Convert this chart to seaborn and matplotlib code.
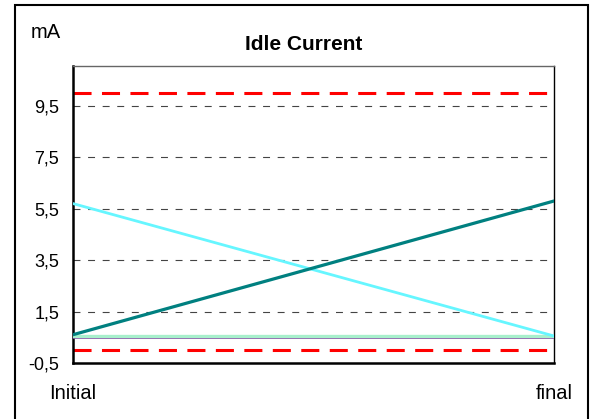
import pandas as pd
import seaborn as sns
import matplotlib.pyplot as plt
from matplotlib.patches import Rectangle

# chart data
stages = ["Initial", "final"]
series_names = ["purple", "green", "cyan", "teal"]
purple_vals = [0.48, 0.48]
green_vals = [0.56, 0.56]
cyan_vals = [5.7, 0.55]
teal_vals = [0.6, 5.8]
limits = [0.0, 10.0]
y_ticks = [-0.5, 1.5, 3.5, 5.5, 7.5, 9.5]
x_tick_labels = ["Initial", "", "final"]

colors = {"purple": "#7f3f9f", "green": "#a8f0cc", "cyan": "#66f6ff", "teal": "#008080"}
widths = {"purple": 1.2, "green": 2.4, "cyan": 2.0, "teal": 2.3}

rows = []
for name, vals in zip(series_names, [purple_vals, green_vals, cyan_vals, teal_vals]):
    for i, v in enumerate(vals):
        rows.append({"series": name, "pos": i, "stage": stages[i], "mA": v})
df = pd.DataFrame(rows)

sns.set_style("white")
plt.rcParams["font.family"] = ["Liberation Sans", "DejaVu Sans"]
plt.rcParams["lines.scale_dashes"] = False
plt.rcParams["text.color"] = "black"
plt.rcParams["xtick.color"] = "black"
plt.rcParams["ytick.color"] = "black"

fig = plt.figure(figsize=(5.93, 4.19), dpi=100)
ax = fig.add_axes([73 / 593, 1 - 363 / 419, 481 / 593, 297 / 419])

# outer chart frame
fig.patches.append(Rectangle((15, -10), 573, 424, transform=None, fill=False,
                             edgecolor="black", linewidth=1.5))

# grid lines
for t in y_ticks[1:]:
    ax.axhline(t, color="#444444", lw=0.8, ls=(0, (5, 5.5)), zorder=1)

# limit lines
for lim in limits:
    ax.axhline(lim, color="#ff0000", lw=2.2, ls=(0, (13, 7.5)), zorder=2)

for name in series_names:
    sns.lineplot(data=df[df["series"] == name], x="pos", y="mA", ax=ax,
                 color=colors[name], lw=widths[name], zorder=3)

ax.set_xlim(0, 1)
ax.set_ylim(-0.5, 11.05)
ax.set_xticks([0, 0.5, 1])
ax.set_xticklabels(x_tick_labels, fontsize=14.5)
ax.set_yticks(y_ticks)
ax.set_yticklabels([f"{t:.1f}".replace(".", ",") for t in y_ticks], fontsize=13)
ax.tick_params(axis="both", direction="out", length=5, width=1.5, color="black",
               labelcolor="black")
ax.tick_params(axis="x", pad=10)
ax.tick_params(axis="y", pad=5)
ax.set_xlabel("")
ax.set_ylabel("")

for s in ["left", "bottom"]:
    ax.spines[s].set_linewidth(1.8)
    ax.spines[s].set_color("black")
ax.spines["top"].set_linewidth(1)
ax.spines["top"].set_color("#666666")
ax.spines["right"].set_linewidth(1)
ax.spines["right"].set_color("black")

fig.text(304 / 593, 1 - 44 / 419, "Idle Current", ha="center", va="center",
         fontsize=15, fontweight="bold")
fig.text(31 / 593, 1 - 33 / 419, "mA", ha="left", va="center", fontsize=14.5)

fig.savefig("out.png", dpi=100)
